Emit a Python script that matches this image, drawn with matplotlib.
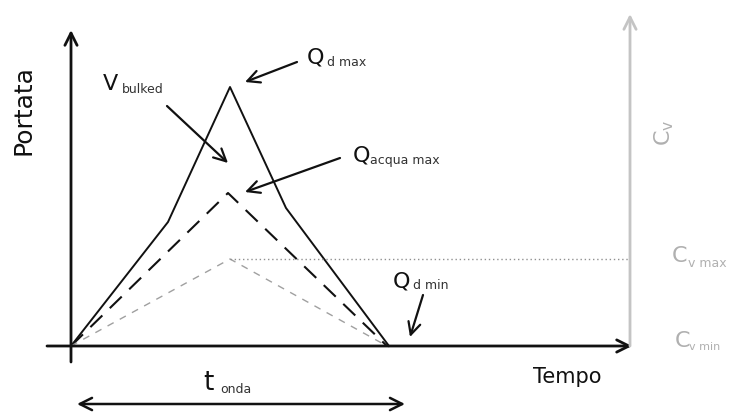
import matplotlib.pyplot as plt

# =====================================================
# Schematic data (time / discharge units, arbitrary)
# =====================================================
t_debris = [0, 97, 159, 215, 318]
q_debris = [0, 124, 259, 138, 0]

t_water = [0, 157, 316]
q_water = [0, 153, 0]

t_conc = [0, 159, 316]
c_conc = [0, 87, 0]

cv_max_level = 87
t_end_axis = 559

BLACK = "#111111"
GREY = "#c4c4c4"
GREY_TXT = "#b0b0b0"

fig = plt.figure(figsize=(7.35, 4.12), dpi=100)
ax = fig.add_axes([0, 0, 1, 1])
ax.set_xlim(-71, 664)
ax.set_ylim(-66, 346)
ax.axis("off")


def arrow(x0, y0, x1, y1, color=BLACK, lw=1.6, style="->", scale=22):
    ax.annotate(
        "",
        xy=(x1, y1),
        xytext=(x0, y0),
        arrowprops=dict(
            arrowstyle=style,
            color=color,
            lw=lw,
            shrinkA=0,
            shrinkB=0,
            mutation_scale=scale
        )
    )


def label(x, y, big, small, gap, drop, color=BLACK, sub_color="#333333",
          size=16, sub_size=9):
    ax.text(x, y, big, fontsize=size, color=color, ha="left", va="center")
    ax.text(x + gap, y - drop, small, fontsize=sub_size, color=sub_color,
            ha="left", va="baseline")


# =====================================================
# Axes
# =====================================================
arrow(0, -16, 0, 316, lw=2.0)
arrow(-24, 0, 561, 0, lw=2.0)
arrow(t_end_axis, 0, t_end_axis, 332, color=GREY, lw=2.0)

# =====================================================
# Curves
# =====================================================
ax.plot(t_debris, q_debris, color=BLACK, lw=1.4)
ax.plot(t_water, q_water, color=BLACK, lw=1.5, linestyle=(0, (8, 5)))
ax.plot(t_conc, c_conc, color="#a0a0a0", lw=1.0, linestyle=(0, (5, 5)))
ax.plot([t_conc[1], t_end_axis], [cv_max_level, cv_max_level],
        color="#909090", lw=1.0, linestyle=(0, (1, 2)))

# =====================================================
# Annotations
# =====================================================
arrow(226, 284, 174, 264)
arrow(96, 240, 157, 183)
arrow(269, 188, 174, 154)
arrow(352, 51, 339, 9)
arrow(6, -58, 334, -58, style="<->", lw=1.8)

ax.text(-47, 236, "Portata", fontsize=18, rotation=90,
        ha="center", va="center", color=BLACK)
ax.text(496, -31, "Tempo", fontsize=15, ha="center", va="center",
        color=BLACK)

label(236, 289, "Q", "d max", 20, 9)
label(32, 262, "V", "bulked", 19, 9)
label(282, 191, "Q", "acqua max", 17, 9)
label(322, 65, "Q", "d min", 20, 8)
label(132, -37, "t", "onda", 17, 10, size=19)

ax.text(593, 213, r"$\mathregular{C_v}$", fontsize=16, rotation=90,
        ha="center", va="center", color=GREY_TXT)
label(601, 90, "C", "v max", 16, 11, color=GREY_TXT, sub_color=GREY_TXT,
      sub_size=9)
label(604, 5, "C", "v min", 14, 9, color=GREY_TXT, sub_color=GREY_TXT,
      sub_size=8)

plt.savefig("out.png", dpi=100)
plt.close()
